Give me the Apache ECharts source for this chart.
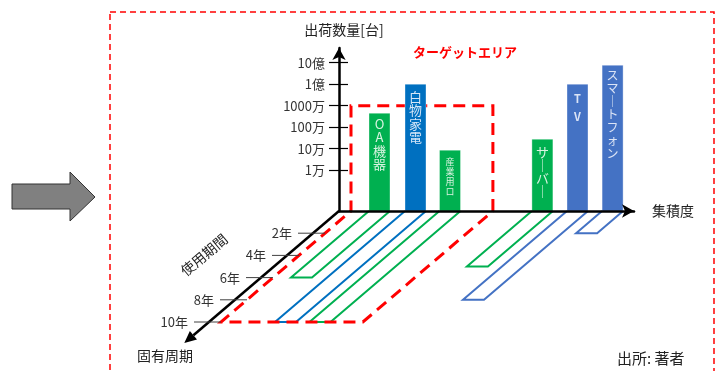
<!DOCTYPE html>
<html><head><meta charset="utf-8">
<script src="https://cdn.jsdelivr.net/npm/echarts@6/dist/echarts.min.js"></script>
<style>html,body{margin:0;padding:0;background:#fff}#c{width:719px;height:371px}</style>
</head><body><div id="c"></div>
<script>
// ---------------- data ----------------
const products = ['OA機器', '白物家電', '産業用ロ', 'サーバー', 'TV', 'スマートフォン'];
const integration = [1.35, 2.55, 3.7, 6.78, 7.95, 9.12];   // 集積度 (position on horizontal axis)
const shipmentsLog = [6.65, 8.0, 4.93, 5.44, 8.0, 8.88];   // log10(出荷数量[台])
const usePeriod = [6, 10, 10, 5, 8, 2];                    // 使用期間 [年]
const productColorGroup = [0, 1, 0, 0, 2, 2];
const yTickValues = [4, 5, 6, 7, 8, 9];
const yTickLabels = ['1万', '10万', '100万', '1000万', '1億', '10億'];
const yearTicks = [2, 4, 6, 8, 10];
const yearTickLabels = ['2年', '4年', '6年', '8年', '10年'];
const targetIntegration = [0.4, 5.13];
const targetShipmentLog = 7;   // 1000万
const targetPeriod = 10;       // 年

// ---------------- layout / style ----------------
const W = 719, H = 371;
const OX = 339, OY = 211;        // origin in px
const PXU = 30;                  // px per integration unit
const PXD = 21.5;                // px per decade
const V0 = 2.1;                  // log value at origin
const YPX = 13.0, YPY = 11.1;    // px shift per year (left, down)
const BARW = 0.7;
const X_AXIS_END = 634, Y_AXIS_END = 48;
const DEPTH_AXIS_END = 11.9;
const COLORS = ['#00B050', '#0070C0', '#4472C4'];
const TEXT_COLORS = ['rgba(235,250,238,0.92)', 'rgba(230,240,252,0.92)', 'rgba(232,238,250,0.92)'];
const FONT = '"Noto Sans CJK JP", "Noto Sans", sans-serif';
const barTextStyle = [
  {size: 13, lh: 13.5, pad: 4, weight: 'normal'},
  {size: 13, lh: 13.5, pad: 6, weight: 'normal'},
  {size: 9, lh: 10, pad: 6, weight: 'normal'},
  {size: 13, lh: 13, pad: 6, weight: 'normal'},
  {size: 11, lh: 18, pad: 6, weight: 'bold'},
  {size: 12, lh: 13, pad: 4, weight: 'normal'}
];

function proj(u, yr) { return [u - yr * YPX / PXU, V0 - yr * YPY / PXD]; }
function vertical(s) { return s.split('').map(c => c === 'ー' ? '｜' : c).join('\n'); }

const chart = echarts.init(document.getElementById('c'), null, {renderer: 'canvas'});

const barData = products.map((p, i) => [integration[i], shipmentsLog[i], i]);
const stripData = products.map((p, i) => [integration[i], usePeriod[i], i]);

const option = {
  animation: false,
  backgroundColor: '#fff',
  grid: [
    {left: OX, top: Y_AXIS_END, width: X_AXIS_END - OX, height: OY - Y_AXIS_END, containLabel: false, outerBoundsMode: 'none'},
    {left: 0, top: 0, width: W, height: H, containLabel: false, outerBoundsMode: 'none'}
  ],
  xAxis: [
    {type: 'value', gridIndex: 0, min: 0, max: (X_AXIS_END - OX) / PXU, z: 10,
     axisLine: {show: true, onZero: false, symbol: ['none', 'arrow'], symbolSize: [10, 12], lineStyle: {color: '#000', width: 2.5}},
     axisTick: {show: false}, axisLabel: {show: false}, splitLine: {show: false},
     name: '集積度', nameLocation: 'end', nameGap: 18,
     nameTextStyle: {fontSize: 14, color: '#222', fontFamily: FONT}},
    {type: 'value', gridIndex: 1, min: -OX / PXU, max: (W - OX) / PXU, show: false}
  ],
  yAxis: [
    {type: 'value', gridIndex: 0, min: V0, max: V0 + (OY - Y_AXIS_END) / PXD, z: 10,
     axisLine: {show: true, onZero: false, symbol: ['none', 'arrow'], symbolSize: [10, 12], lineStyle: {color: '#000', width: 2.5}},
     axisTick: {show: true, inside: false, length: 10, customValues: yTickValues, lineStyle: {color: '#000', width: 1.2}},
     axisLabel: {show: true, margin: 14, customValues: yTickValues, fontSize: 13, color: '#333', fontFamily: FONT,
       formatter: v => { const k = yTickValues.findIndex(t => Math.abs(t - v) < 1e-6); return k >= 0 ? yTickLabels[k] : ''; }},
     splitLine: {show: false},
     name: '出荷数量[台]', nameLocation: 'end', nameGap: 11,
     nameTextStyle: {fontSize: 14, color: '#222', fontFamily: FONT, padding: [0, 0, 0, 10]}},
    {type: 'value', gridIndex: 0, min: V0, max: V0 + (OY - Y_AXIS_END) / PXD, z: 10, position: 'left',
     axisLine: {show: false},
     axisTick: {show: true, inside: true, length: 9, customValues: yTickValues, lineStyle: {color: '#000', width: 1.2}},
     axisLabel: {show: false}, splitLine: {show: false}},
    {type: 'value', gridIndex: 1, min: V0 - (H - OY) / PXD, max: V0 + OY / PXD, show: false}
  ],
  graphic: [
    {type: 'rect', shape: {x: 110, y: 12, width: 604, height: 400}, silent: true, z: 0,
     style: {fill: 'none', stroke: '#FF0000', lineWidth: 1.5, lineDash: [6, 4]}},
    {type: 'polygon', shape: {points: [[12, 184], [70, 184], [70, 172], [95, 197], [70, 221], [70, 209], [12, 209]]},
     style: {fill: '#808080', stroke: '#333', lineWidth: 1}},
    {type: 'text', x: 413, y: 52, style: {text: 'ターゲットエリア', fill: '#FF0000', font: 'bold 13px ' + FONT, verticalAlign: 'middle'}},
    {type: 'text', x: 204, y: 255, rotation: 40 * Math.PI / 180,
     style: {text: '使用期間', fill: '#222', font: '14px ' + FONT, align: 'center', verticalAlign: 'middle'}},
    {type: 'text', x: 137, y: 356, style: {text: '固有周期', fill: '#222', font: '14px ' + FONT, verticalAlign: 'middle'}},
    {type: 'text', x: 617, y: 358, style: {text: '出所: 著者', fill: '#222', font: '15px ' + FONT, verticalAlign: 'middle'}}
  ],
  series: [
    // floor strips (使用期間)
    {type: 'custom', xAxisIndex: 1, yAxisIndex: 2, z: 2, data: stripData,
     renderItem: (params, api) => {
       const u = api.value(0), yr = api.value(1), g = productColorGroup[api.value(2)];
       const uL = u - BARW / 2, uR = u + BARW / 2;
       const pts = [proj(uL, 0), proj(uL, yr), proj(uR, yr), proj(uR, 0)].map(p => api.coord(p));
       return {type: 'polyline', shape: {points: pts}, style: {fill: 'none', stroke: COLORS[g], lineWidth: 2}};
     }},
    // target area
    {type: 'custom', xAxisIndex: 1, yAxisIndex: 2, z: 3, data: [[targetIntegration[0], targetIntegration[1], targetShipmentLog, targetPeriod]],
     renderItem: (params, api) => {
       const uL = api.value(0), uR = api.value(1), v = api.value(2), yr = api.value(3);
       const pts = [[uR, V0], [uR, v], [uL, v], [uL, V0], proj(uL, yr), proj(uR, yr), proj(uR, 0)].map(p => api.coord(p));
       return {type: 'polyline', shape: {points: pts}, style: {fill: 'none', stroke: '#FF0000', lineWidth: 3, lineDash: [12, 7]}};
     }},
    // bars
    {type: 'custom', xAxisIndex: 1, yAxisIndex: 2, z: 4, data: barData,
     renderItem: (params, api) => {
       const u = api.value(0), v = api.value(1), i = api.value(2), g = productColorGroup[i];
       const a = api.coord([u - BARW / 2, v]), b = api.coord([u + BARW / 2, V0]);
       const ts = barTextStyle[i];
       return {type: 'group', children: [
         {type: 'rect', shape: {x: a[0], y: a[1], width: b[0] - a[0], height: b[1] - a[1]},
          style: {fill: COLORS[g], stroke: 'rgba(255,255,255,0.35)', lineWidth: 1}},
         {type: 'text', style: {text: vertical(products[i]), x: (a[0] + b[0]) / 2, y: a[1] + ts.pad,
           align: 'center', verticalAlign: 'top', fill: TEXT_COLORS[g], lineHeight: ts.lh,
           font: ts.weight + ' ' + ts.size + 'px ' + FONT}}
       ]};
     }},
    // depth axis line
    {type: 'custom', xAxisIndex: 1, yAxisIndex: 2, z: 6, data: [[0, DEPTH_AXIS_END]],
     renderItem: (params, api) => {
       const p0 = api.coord(proj(0, 0)), p1 = api.coord(proj(0, api.value(1)));
       const dx = p1[0] - p0[0], dy = p1[1] - p0[1], L = Math.hypot(dx, dy);
       const ux = dx / L, uy = dy / L, nx = -uy, ny = ux;
       const hl = 12, hw = 5.5;
       const base = [p1[0] - ux * hl, p1[1] - uy * hl];
       return {type: 'group', children: [
         {type: 'line', shape: {x1: p0[0], y1: p0[1], x2: base[0], y2: base[1]}, style: {stroke: '#000', lineWidth: 2.5}},
         {type: 'polygon', shape: {points: [p1, [base[0] + nx * hw, base[1] + ny * hw], [base[0] - nx * hw, base[1] - ny * hw]]}, style: {fill: '#000'}}
       ]};
     }},
    // depth axis ticks & labels
    {type: 'custom', xAxisIndex: 1, yAxisIndex: 2, z: 6, data: yearTicks.map((y, k) => [0, y, k]),
     renderItem: (params, api) => {
       const p = api.coord(proj(0, api.value(1)));
       return {type: 'group', children: [
         {type: 'line', shape: {x1: p[0] - 15, y1: p[1], x2: p[0] + 12, y2: p[1]}, style: {stroke: '#404040', lineWidth: 1}},
         {type: 'text', style: {text: yearTickLabels[api.value(2)], x: p[0] - 21, y: p[1], align: 'right', verticalAlign: 'middle',
           fill: '#333', font: '13px ' + FONT}}
       ]};
     }}
  ]
};
chart.setOption(option);
</script>
</body></html>
